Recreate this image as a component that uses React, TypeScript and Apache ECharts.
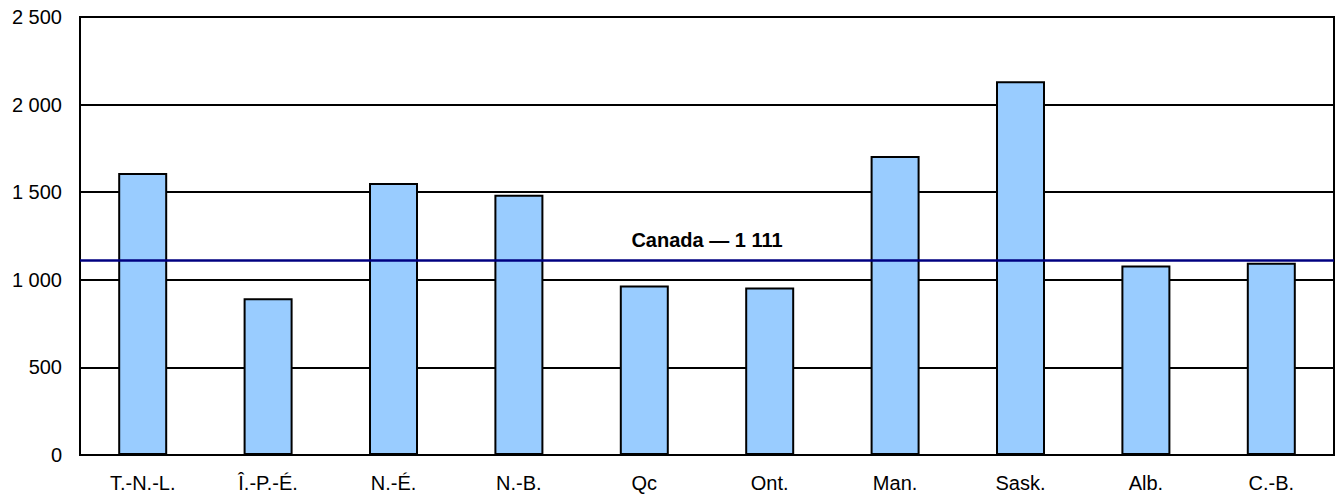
import React, { useEffect, useRef } from "react";
import * as echarts from "echarts";

const categories = ["T.-N.-L.", "Î.-P.-É.", "N.-É.", "N.-B.", "Qc", "Ont.", "Man.", "Sask.", "Alb.", "C.-B."];
const values = [1610, 895, 1553, 1485, 968, 956, 1707, 2133, 1082, 1097];
const canadaValue = 1111;
const canadaLabel = "Canada — 1 111";

const fmt = (v: number) => {
  const s = String(Math.round(v));
  return s.replace(/\B(?=(\d{3})+(?!\d))/g, " ");
};

export default function App() {
  const ref = useRef<HTMLDivElement>(null);
  useEffect(() => {
    if (!ref.current) return;
    const chart = echarts.init(ref.current, undefined, { renderer: "svg" });
    const font = "'Liberation Sans', Arial, sans-serif";
    chart.setOption({
      animation: false,
      backgroundColor: "#ffffff",
      textStyle: { fontFamily: font },
      grid: {
        left: 80,
        right: 4,
        top: 17,
        bottom: 40,
        show: true,
        borderColor: "#000",
        borderWidth: 2,
        containLabel: false,
      },
      xAxis: {
        type: "category",
        data: categories,
        axisLine: { show: true, lineStyle: { color: "#000", width: 2 } },
        axisTick: { show: false },
        axisLabel: { color: "#000", fontSize: 20, fontFamily: font, margin: 18 },
      },
      yAxis: {
        type: "value",
        min: 0,
        max: 2500,
        interval: 500,
        axisLine: { show: true, lineStyle: { color: "#000", width: 2 } },
        axisTick: { show: false },
        axisLabel: {
          color: "#000",
          fontSize: 20,
          fontFamily: font,
          margin: 18,
          formatter: (v: number) => fmt(v),
        },
        splitLine: { show: true, lineStyle: { color: "#000", width: 2 } },
      },
      series: [
        {
          type: "bar",
          data: values,
          barWidth: 49,
          itemStyle: { color: "#99CCFF", borderColor: "#000", borderWidth: 2 },
          markLine: {
            silent: true,
            symbol: "none",
            data: [{ yAxis: canadaValue }],
            lineStyle: { color: "#000080", width: 2.5, type: "solid" },
            label: {
              show: true,
              position: "middle",
              formatter: canadaLabel,
              color: "#000",
              fontSize: 20,
              fontWeight: "bold",
              fontFamily: font,
              distance: 10,
            },
          },
        },
      ],
    });
    return () => chart.dispose();
  }, []);
  return (
    <div
      ref={ref}
      style={{ position: "absolute", left: 0, top: 0, width: 1338, height: 495 }}
    />
  );
}
